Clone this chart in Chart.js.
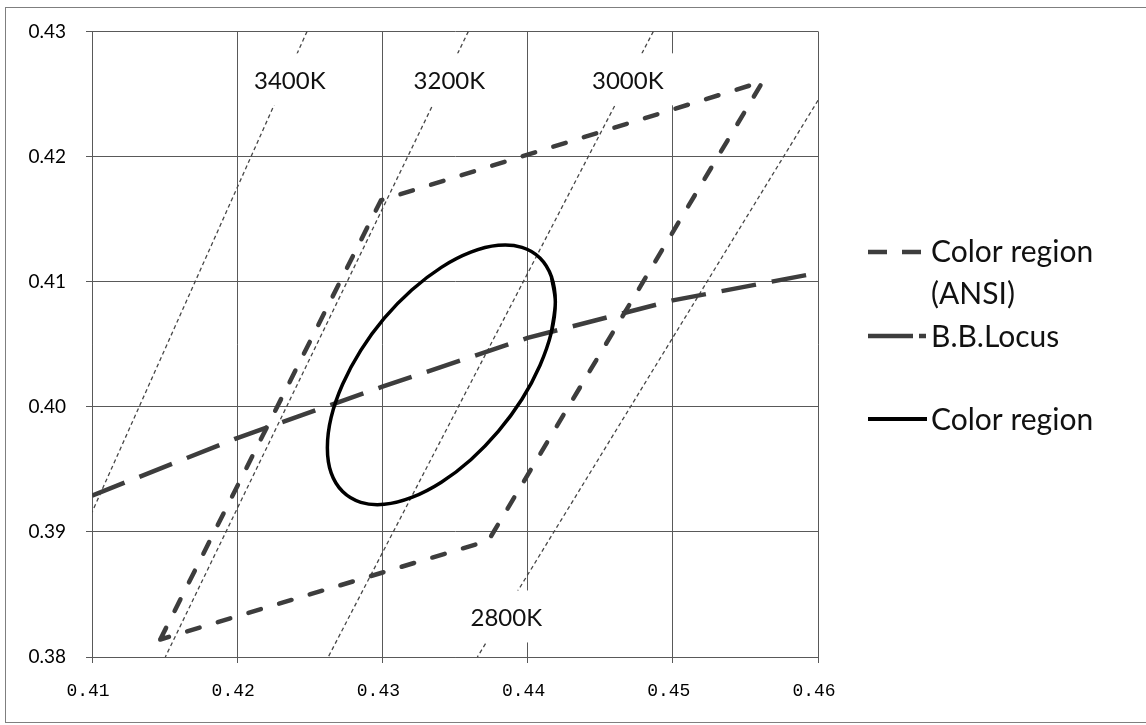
<!DOCTYPE html>
<html>
<head>
<meta charset="utf-8">
<script src="https://cdn.jsdelivr.net/npm/chart.js@4.4.1/dist/chart.umd.min.js"></script>
<style>
  html, body { margin: 0; padding: 0; background: #fff; }
  #wrap { position: relative; width: 1146px; height: 725px; }
  canvas { display: block; }
</style>
</head>
<body>
<div id="wrap"><canvas id="c" width="1146" height="725"></canvas></div>
<script>
// ---- Axis ticks ----
const xTickValues = [0.41, 0.42, 0.43, 0.44, 0.45, 0.46];
const xTickLabels = ['0.41', '0.42', '0.43', '0.44', '0.45', '0.46'];
const yTickValues = [0.38, 0.39, 0.40, 0.41, 0.42, 0.43];
const yTickLabels = ['0.38', '0.39', '0.40', '0.41', '0.42', '0.43'];

// ---- Color region (ANSI) quadrangle ----
const ansiX = [0.4147, 0.4299, 0.4562, 0.4373, 0.4147];
const ansiY = [0.3814, 0.4165, 0.4260, 0.3893, 0.3814];

// ---- Black-body locus ----
const locusX = [0.410, 0.420, 0.430, 0.440, 0.450, 0.460];
const locusY = [0.3929, 0.3975, 0.4016, 0.4055, 0.4085, 0.4107];

// ---- Color region (ellipse outline) ----
const ellipseX = [0.44191, 0.44164, 0.44085, 0.43961, 0.43798, 0.43609, 0.43406, 0.43202,
                  0.43013, 0.42851, 0.42726, 0.42647, 0.42621, 0.42647, 0.42726, 0.42851,
                  0.43013, 0.43202, 0.43406, 0.43609, 0.43798, 0.43961, 0.44085, 0.44164];
const ellipseY = [0.40838, 0.40596, 0.40330, 0.40060, 0.39803, 0.39577, 0.39397, 0.39275,
                  0.39220, 0.39236, 0.39322, 0.39471, 0.39673, 0.39915, 0.40180, 0.40451,
                  0.40708, 0.40933, 0.41114, 0.41235, 0.41290, 0.41274, 0.41189, 0.41040];

// ---- Isotemperature lines ----
const isoNames = ['3400K', '3200K', '3000K', '2800K'];
const iso3400X = [0.42481, 0.41000];
const iso3400Y = [0.43000, 0.39157];
const iso3200X = [0.43592, 0.41505];
const iso3200Y = [0.43000, 0.38000];
const iso3000X = [0.44866, 0.42627];
const iso3000Y = [0.43000, 0.38000];
const iso2800X = [0.46000, 0.43654];
const iso2800Y = [0.42449, 0.38000];

// Label anchors (data coordinates) for the CCT annotations
const isoLabelAnchors = [
  { x: 0.42362, y: 0.42609 },
  { x: 0.43461, y: 0.42609 },
  { x: 0.44690, y: 0.42609 },
  { x: 0.43853, y: 0.38316 }
];

const pts = (xs, ys) => xs.map((x, i) => ({ x: x, y: ys[i] }));

// closed smooth ring: wrap one point on each side so the joint is smooth
const ring = pts(ellipseX, ellipseY);
const ringData = [ring[ring.length - 1]].concat(ring, [ring[0], ring[1]]);

const isoStyle = {
  borderColor: '#474747', borderWidth: 1.3, borderDash: [4, 3],
  pointRadius: 0, showLine: true, fill: false, tension: 0
};

const datasets = [
  Object.assign({ label: 'iso3400', data: pts(iso3400X, iso3400Y), order: 5 }, isoStyle),
  Object.assign({ label: 'iso3200', data: pts(iso3200X, iso3200Y), order: 5 }, isoStyle),
  Object.assign({ label: 'iso3000', data: pts(iso3000X, iso3000Y), order: 5 }, isoStyle),
  Object.assign({ label: 'iso2800', data: pts(iso2800X, iso2800Y), order: 5 }, isoStyle),
  {
    label: 'Color region (ANSI)', data: pts(ansiX, ansiY), order: 3,
    borderColor: '#3d3d3d', borderWidth: 4.5, borderDash: [13, 19], borderCapStyle: 'round',
    pointRadius: 0, showLine: true, fill: false, tension: 0
  },
  {
    label: 'B.B.Locus', data: pts(locusX, locusY), order: 2,
    borderColor: '#3d3d3d', borderWidth: 4.5, borderDash: [35, 16], borderCapStyle: 'butt',
    pointRadius: 0, showLine: true, fill: false, tension: 0
  },
  {
    label: 'Color region', data: ringData, order: 1,
    borderColor: '#000000', borderWidth: 3.5,
    pointRadius: 0, showLine: true, fill: false, tension: 0.35
  }
];

const frameAndLabels = {
  id: 'frameAndLabels',
  beforeDraw(chart) {
    const ctx = chart.ctx;
    ctx.save();
    ctx.fillStyle = '#ffffff';
    ctx.fillRect(0, 0, chart.width, chart.height);
    ctx.strokeStyle = '#7f7f7f';
    ctx.lineWidth = 1;
    ctx.strokeRect(5.5, 7.5, 1150, 715);
    ctx.restore();
  },
  afterDatasetsDraw(chart) {
    const ctx = chart.ctx;
    const xs = chart.scales.x, ys = chart.scales.y;
    ctx.save();
    ctx.font = '24px Lato';
    ctx.textAlign = 'center';
    ctx.textBaseline = 'middle';
    isoNames.forEach((name, i) => {
      const px = xs.getPixelForValue(isoLabelAnchors[i].x);
      const py = ys.getPixelForValue(isoLabelAnchors[i].y);
      const w = ctx.measureText(name).width + 26;
      const h = 52;
      ctx.fillStyle = '#ffffff';
      ctx.fillRect(px - w / 2, py - h / 2 - 1, w, h);
      ctx.fillStyle = '#111111';
      ctx.fillText(name, px, py + 1);
    });
    ctx.restore();
  },
  afterDraw(chart) {
    // legend
    const ctx = chart.ctx;
    ctx.save();
    ctx.lineWidth = 4.5;
    ctx.strokeStyle = '#3d3d3d';
    ctx.lineCap = 'butt';
    // ANSI sample
    ctx.beginPath(); ctx.moveTo(868, 252); ctx.lineTo(887, 252);
    ctx.moveTo(902, 252); ctx.lineTo(921, 252); ctx.stroke();
    // Locus sample
    ctx.beginPath(); ctx.moveTo(868, 336); ctx.lineTo(913, 336);
    ctx.moveTo(919, 336); ctx.lineTo(926, 336); ctx.stroke();
    // Ellipse sample
    ctx.strokeStyle = '#000000';
    ctx.lineWidth = 4;
    ctx.beginPath(); ctx.moveTo(868, 419); ctx.lineTo(927, 419); ctx.stroke();
    ctx.fillStyle = '#111111';
    ctx.font = '30px Lato';
    ctx.textAlign = 'left';
    ctx.textBaseline = 'middle';
    ctx.fillText('Color region', 931, 252);
    ctx.fillText('(ANSI)', 931, 294);
    ctx.fillText('B.B.Locus', 931, 337);
    ctx.fillText('Color region', 931, 420);
    ctx.restore();
  }
};

new Chart(document.getElementById('c'), {
  type: 'scatter',
  data: { datasets: datasets },
  options: {
    responsive: false,
    devicePixelRatio: 1,
    animation: false,
    layout: { padding: { left: 0, top: 30, right: 328, bottom: 0 } },
    plugins: { legend: { display: false }, tooltip: { enabled: false } },
    scales: {
      x: {
        type: 'linear', min: 0.41, max: 0.46,
        afterBuildTicks: (s) => { s.ticks = xTickValues.map(v => ({ value: v })); },
        afterFit: (s) => { s.height = 68; },
        ticks: {
          autoSkip: false, maxRotation: 0, minRotation: 0, padding: 17, labelOffset: -4,
          color: '#000', font: { family: 'Liberation Mono', size: 18 },
          callback: (v, i) => xTickLabels[i]
        },
        grid: { color: '#595959', lineWidth: 1, tickLength: 6, drawTicks: true },
        border: { color: '#595959', width: 1 }
      },
      y: {
        type: 'linear', min: 0.38, max: 0.43,
        afterBuildTicks: (s) => { s.ticks = yTickValues.map(v => ({ value: v })); },
        afterFit: (s) => { s.width = 92; },
        ticks: {
          autoSkip: false, padding: 20,
          color: '#000', font: { family: 'Lato', size: 19 },
          callback: (v, i) => yTickLabels[i]
        },
        grid: { color: '#595959', lineWidth: 1, tickLength: 6, drawTicks: true },
        border: { color: '#595959', width: 1 }
      }
    }
  },
  plugins: [frameAndLabels]
});
</script>
</body>
</html>
